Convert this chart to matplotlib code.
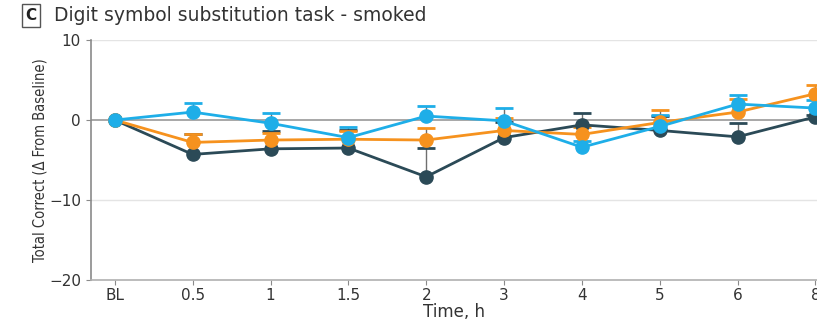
import numpy as np
import matplotlib.pyplot as plt
import matplotlib.patches as mpatches

tiempos = ["BL", "0.5", "1", "1.5", "2", "3", "4", "5", "6", "8"]

# medias por grupo (Δ desde basal)
oscuro = [0, -4.3, -3.6, -3.5, -7.1, -2.2, -0.6, -1.3, -2.1, 0.4]
oscuro_sup = [0, -1.8, -1.4, -1.3, -3.5, -0.3, 0.9, 0.5, -0.4, 0.6]
naranja = [0, -2.8, -2.5, -2.4, -2.5, -1.3, -1.8, -0.3, 1.0, 3.3]
naranja_sup = [0, -1.7, -1.6, -1.4, -1.0, 0.2, -0.9, 1.2, 2.6, 4.4]
celeste = [0, 1.0, -0.4, -2.2, 0.5, -0.1, -3.4, -0.8, 2.0, 1.5]
celeste_sup = [0, 2.1, 0.9, -0.9, 1.8, 1.5, -2.6, 0.6, 3.1, 2.5]

yticks = [-20, -10, 0, 10]

fig = plt.figure(figsize=(8.17, 3.21), dpi=100)
ax = fig.add_axes([0.111, 0.128, 0.889, 0.747])
x = np.arange(len(tiempos))

ax.axhline(0, color="#a0a0a0", linewidth=1.3, zorder=1)
for v in [-10, 10]:
	ax.axhline(v, color="#e4e4e4", linewidth=1.0, zorder=0)

series = [(oscuro, oscuro_sup, "#2b4a57"), (naranja, naranja_sup, "#f6921e"), (celeste, celeste_sup, "#1eaee8")]
for medias, sup, color in series:
	m = np.array(medias)
	err = np.array(sup) - m
	err[0] = 0
	ax.errorbar(x[1:], m[1:], yerr=[np.zeros(len(m) - 1), err[1:]], fmt="none",
		ecolor="#6f6f6f", elinewidth=1.0, capsize=0, zorder=2)
	ax.plot(x[1:], m[1:] + err[1:], linestyle="none", marker="_", markersize=13,
		markeredgewidth=2, color=color, zorder=3)
	ax.plot(x, m, color=color, linewidth=2, marker="o", markersize=9.5, zorder=4)

ax.set_xlim(-0.31, 9.02)
ax.set_ylim(-20, 10)
ax.set_xticks(x)
ax.set_xticklabels(tiempos)
ax.set_yticks(yticks)
ax.set_yticklabels(["\u221220", "\u221210", "0", "10"])
for s in ["top", "right"]:
	ax.spines[s].set_visible(False)
ax.spines["left"].set_color("#8a8a8a")
ax.spines["bottom"].set_color("#b0b0b0")
ax.spines["left"].set_linewidth(1.2)
ax.spines["bottom"].set_linewidth(1.2)
ax.tick_params(colors="#8a8a8a", labelcolor="#333333", labelsize=11, length=3.5)
ax.tick_params(axis="x", pad=2)
ax.set_xlabel("Time, h", fontsize=12, color="#333333", labelpad=0)
ax.set_ylabel("Total Correct (\u0394 From Baseline)", fontsize=10.5, color="#333333",
	family="DejaVu Sans", fontstretch="condensed", labelpad=1)
ax.set_facecolor("none")

fig.text(0.038, 0.952, "C", fontsize=11, color="#222222", ha="center", va="center", weight="bold",
	bbox=dict(boxstyle="square,pad=0.25", facecolor="white", edgecolor="#555555", linewidth=1))
fig.text(0.066, 0.952, "Digit symbol substitution task - smoked", fontsize=13.5, color="#333333",
	ha="left", va="center")

plt.savefig("out.png", dpi=100)
